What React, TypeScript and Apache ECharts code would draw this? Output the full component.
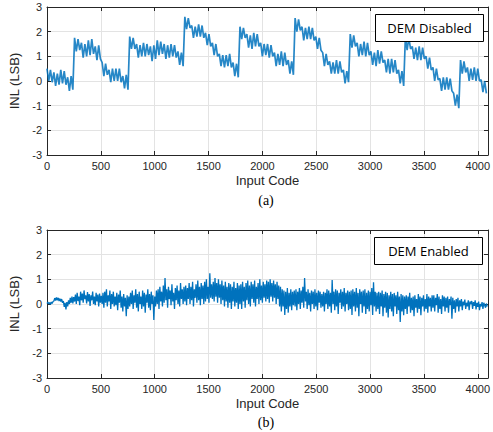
import React, { useEffect, useRef } from "react";
import * as echarts from "echarts";

// INL (LSB) with DEM disabled, one value every 16 input codes
const inlDemDisabled: number[] = [
  // 0-255
  0.5, 0.0, 0.45, -0.05, 0.35, -0.2, 0.3, -0.15, 0.45, -0.1, 0.4, -0.15, 0.15, -0.4, 0.2, -0.35,
  // 256-511
  1.75, 1.2, 1.7, 1.25, 1.55, 0.95, 1.5, 1.0, 1.65, 1.05, 1.7, 1.1, 1.4, 0.85, 1.45, 0.9,
  // 512-767
  0.75, 0.2, 0.7, 0.25, 0.45, -0.05, 0.5, 0.0, 0.5, 0.0, 0.5, -0.05, 0.2, -0.3, 0.25, -0.35,
  // 768-1023
  1.8, 1.3, 1.75, 1.3, 1.5, 0.95, 1.45, 1.0, 1.55, 1.0, 1.5, 1.05, 1.4, 0.8, 1.45, 0.9,
  // 1024-1279
  1.65, 1.05, 1.6, 1.1, 1.5, 0.9, 1.45, 0.95, 1.5, 1.0, 1.45, 0.95, 1.2, 0.65, 1.15, 0.6,
  // 1280-1535
  2.6, 2.1, 2.55, 2.15, 2.25, 1.75, 2.2, 1.8, 2.3, 1.8, 2.25, 1.75, 1.95, 1.45, 1.9, 1.4,
  // 1536-1791
  1.55, 1.05, 1.5, 1.0, 1.1, 0.6, 1.05, 0.55, 1.05, 0.6, 1.1, 0.55, 0.75, 0.2, 0.7, 0.15,
  // 1792-2047
  2.2, 1.7, 2.15, 1.75, 1.9, 1.35, 1.85, 1.3, 1.95, 1.4, 1.9, 1.4, 1.55, 1.0, 1.5, 1.05,
  // 2048-2303
  1.5, 0.95, 1.45, 1.0, 1.15, 0.6, 1.1, 0.65, 1.2, 0.6, 1.15, 0.65, 0.85, 0.3, 0.8, 0.25,
  // 2304-2559
  2.55, 2.0, 2.5, 2.05, 2.2, 1.65, 2.15, 1.7, 2.2, 1.7, 2.15, 1.65, 1.8, 1.3, 1.75, 1.25,
  // 2560-2815
  1.15, 0.6, 1.1, 0.65, 0.8, 0.3, 0.75, 0.3, 0.85, 0.3, 0.8, 0.35, 0.45, -0.1, 0.4, -0.05,
  // 2816-3071
  1.9, 1.35, 1.85, 1.4, 1.55, 1.0, 1.5, 1.05, 1.6, 1.0, 1.55, 1.05, 1.2, 0.65, 1.15, 0.6,
  // 3072-3327
  1.25, 0.7, 1.2, 0.75, 0.85, 0.35, 0.9, 0.3, 0.9, 0.35, 0.85, 0.3, 0.45, -0.1, 0.4, -0.2,
  // 3328-3583
  1.8, 1.25, 1.75, 1.3, 1.4, 0.9, 1.35, 0.85, 1.4, 0.85, 1.35, 0.9, 1.0, 0.5, 0.95, 0.45,
  // 3584-3839
  0.55, 0.0, 0.5, 0.05, 0.1, -0.4, 0.15, -0.35, 0.15, -0.35, 0.1, -0.4, -0.5, -1.0, -0.55, -1.1,
  // 3840-4095
  0.85, 0.3, 0.8, 0.35, 0.55, 0.0, 0.5, 0.05, 0.55, 0.0, 0.5, 0.0, 0.05, -0.45, 0.0, -0.5,
];
const codeStepDisabled = 16;

// INL (LSB) with DEM enabled, one value every 8 input codes
const inlDemEnabled: number[] = [
  0.02, 0.08, 0.0, 0.06, -0.02, 0.08, 0.02, 0.1, 0.12, 0.24, 0.14, 0.27, 0.15, 0.25, 0.12, 0.22,
  0.1, 0.2, 0.05, 0.12, -0.12, 0.05, -0.22, 0.08, -0.1, 0.15, 0.0, 0.25, 0.05, 0.3, 0.02, 0.28,
  0.1, 0.38, 0.0, 0.45, 0.12, 0.3, -0.05, 0.5, 0.15, 0.42, 0.05, 0.55, 0.2, 0.35, 0.02, 0.48,
  0.1, 0.4, -0.08, 0.35, 0.15, 0.5, 0.0, 0.3, -0.05, 0.45, 0.1, 0.38, -0.1, 0.42, 0.05, 0.33,
  0.0, 0.45, -0.15, 0.5, 0.05, 0.6, -0.1, 0.35, 0.1, 0.55, -0.2, 0.4, 0.0, 0.5, -0.1, 0.3,
  -0.05, 0.45, -0.25, 0.38, 0.05, 0.55, -0.15, 0.3, -0.3, 0.4, -0.1, 0.25, -0.5, 0.35, -0.2, 0.3,
  -0.1, 0.45, 0.0, 0.55, -0.2, 0.35, 0.05, 0.6, -0.15, 0.4, -0.3, 0.5, 0.0, 0.3, -0.2, 0.55,
  -0.1, 0.45, -0.35, 0.38, 0.05, 0.6, -0.15, 0.4, -0.25, 0.5, 0.0, 0.35, -0.65, 0.3, -0.1, 0.55,
  0.0, 0.6, -0.2, 0.7, 0.1, 0.5, -0.1, 0.75, 0.05, 1.05, 0.15, 0.6, -0.15, 0.7, 0.2, 0.55,
  -0.05, 0.8, 0.1, 0.45, -0.2, 0.65, 0.15, 0.75, 0.0, 0.55, -0.1, 0.85, 0.2, 0.6, 0.0, 0.7,
  0.1, 0.75, -0.05, 0.65, 0.2, 0.85, 0.0, 0.7, 0.15, 0.9, -0.1, 0.6, 0.25, 0.8, 0.05, 0.95,
  0.15, 0.7, -0.05, 0.85, 0.2, 0.75, 0.0, 0.9, 0.1, 1.0, 0.2, 0.7, 0.05, 1.25, 0.25, 0.8,
  0.2, 0.9, 0.1, 1.05, 0.3, 0.85, 0.05, 1.0, 0.25, 0.8, 0.0, 0.95, 0.15, 0.75, -0.1, 0.9,
  0.1, 0.7, -0.15, 0.85, 0.05, 0.8, -0.2, 0.7, 0.1, 0.9, -0.1, 0.65, 0.05, 0.85, -0.2, 0.75,
  0.0, 0.8, -0.2, 0.9, 0.1, 0.7, -0.15, 0.85, 0.15, 0.95, 0.0, 0.75, -0.1, 0.9, 0.2, 0.8,
  0.05, 0.95, -0.1, 0.7, 0.2, 0.85, 0.0, 1.0, 0.15, 0.75, 0.05, 0.9, 0.25, 0.8, 0.1, 0.95,
  0.2, 0.9, 0.05, 1.0, 0.3, 0.85, 0.1, 0.95, 0.25, 0.8, 0.0, 0.9, 0.2, 0.75, -0.1, 0.7,
  -0.3, 0.6, -0.1, 0.55, -0.45, 0.5, -0.2, 0.65, -0.35, 0.45, -0.1, 0.6, -0.25, 0.5, -0.05, 0.55,
  -0.1, 0.6, -0.25, 0.5, 0.0, 0.65, -0.2, 0.55, 0.05, 0.7, -0.15, 1.05, 0.1, 0.5, -0.2, 0.6,
  -0.05, 0.45, -0.3, 0.55, 0.0, 0.5, -0.2, 0.6, -0.1, 0.45, -0.25, 0.55, 0.05, 0.5, -0.15, 0.4,
  -0.1, 0.5, -0.3, 0.45, 0.0, 0.6, -0.2, 0.55, -0.1, 0.45, -0.35, 0.97, 0.0, 0.5, -0.25, 0.6,
  -0.1, 0.55, -0.4, 0.45, 0.05, 0.6, -0.2, 0.5, -0.1, 0.65, -0.3, 0.45, 0.0, 0.55, -0.25, 0.5,
  -0.2, 0.55, -0.45, 0.6, -0.1, 0.5, -0.3, 0.65, -0.15, 0.45, -0.5, 0.6, 0.0, 0.5, -0.35, 0.55,
  -0.1, 0.6, -0.4, 0.45, -0.2, 0.55, -0.3, 0.5, -0.05, 0.65, -0.45, 0.88, -0.1, 0.5, -0.3, 0.45,
  -0.2, 0.5, -0.4, 0.45, -0.1, 0.55, -0.5, 0.4, -0.15, 0.5, -0.35, 0.45, -0.55, 0.35, -0.2, 0.5,
  -0.3, 0.4, -0.5, 0.45, -0.1, 0.35, -0.4, 0.5, -0.25, 0.3, -0.73, 0.4, -0.3, 0.35, -0.45, 0.3,
  -0.2, 0.35, -0.4, 0.3, -0.1, 0.45, -0.35, 0.25, -0.25, 0.3, -0.5, 0.35, -0.15, 0.2, -0.35, 0.4,
  -0.2, 0.3, -0.45, 0.25, -0.1, 0.35, -0.3, 0.2, -0.2, 0.4, -0.35, 0.3, -0.1, 0.25, -0.3, 0.35,
  -0.15, 0.35, -0.3, 0.25, -0.05, 0.4, -0.35, 0.3, -0.2, 0.2, -0.4, 0.35, -0.1, 0.3, -0.3, 0.25,
  -0.15, 0.3, -0.35, 0.2, -0.05, 0.3, -0.6, 0.25, -0.2, 0.15, -0.35, 0.2, -0.1, 0.25, -0.3, 0.15,
  -0.1, 0.2, -0.25, 0.1, -0.05, 0.18, -0.2, 0.05, -0.1, 0.15, -0.25, 0.1, 0.0, 0.12, -0.2, 0.08,
  -0.08, 0.15, -0.22, 0.05, -0.12, 0.1, -0.25, 0.0, -0.1, 0.08, -0.2, 0.05, -0.05, -0.15, 0.02, -0.1,
];
const codeStepEnabled = 8;

const xMin = 0;
const xMax = 4095;
const xInterval = 500;
const yMin = -3;
const yMax = 3;
const yInterval = 1;
const panelLabels = ["(a)", "(b)"];
const legendLabels = ["DEM Disabled", "DEM Enabled"];
const xTitle = "Input Code";
const yTitle = "INL (LSB)";

const LINE = "#0072BD";
const AX = "#262626";
const GRID = "#e3e3e3";
const FONT = "'Liberation Sans', Arial, sans-serif";

export default function App() {
  const ref = useRef<HTMLDivElement>(null);
  useEffect(() => {
    if (!ref.current) return;
    const chart = echarts.init(ref.current, undefined, { renderer: "svg" });

    const grids = [
      { left: 47, right: 3, top: 7, height: 148 },
      { left: 47, right: 3, top: 230, height: 148 },
    ];

    const xAxes: any[] = [];
    const yAxes: any[] = [];
    grids.forEach((_, gi) => {
      xAxes.push({
        type: "value",
        gridIndex: gi,
        min: xMin,
        max: xMax,
        interval: xInterval,
        position: "bottom",
        name: xTitle,
        nameLocation: "middle",
        nameGap: 19,
        nameTextStyle: { color: AX, fontFamily: FONT, fontSize: 13 },
        axisLine: { show: true, onZero: false, lineStyle: { color: AX, width: 1 } },
        axisTick: { show: true, inside: true, length: 4, lineStyle: { color: AX } },
        axisLabel: {
          color: AX,
          fontFamily: FONT,
          fontSize: 11,
          margin: 5,
          showMaxLabel: false,
          formatter: (v: number) => String(v),
        },
        splitLine: { show: true, lineStyle: { color: GRID, width: 1 } },
      });
      xAxes.push({
        type: "value",
        gridIndex: gi,
        min: xMin,
        max: xMax,
        interval: xInterval,
        position: "top",
        axisLine: { show: true, onZero: false, lineStyle: { color: AX, width: 1 } },
        axisTick: { show: true, inside: true, length: 4, lineStyle: { color: AX } },
        axisLabel: { show: false },
        splitLine: { show: false },
      });
      yAxes.push({
        type: "value",
        gridIndex: gi,
        min: yMin,
        max: yMax,
        interval: yInterval,
        position: "left",
        name: yTitle,
        nameLocation: "middle",
        nameGap: 13,
        nameTextStyle: { color: AX, fontFamily: FONT, fontSize: 13 },
        axisLine: { show: true, onZero: false, lineStyle: { color: AX, width: 1 } },
        axisTick: { show: true, inside: true, length: 4, lineStyle: { color: AX } },
        axisLabel: { color: AX, fontFamily: FONT, fontSize: 11, margin: 5 },
        splitLine: { show: true, lineStyle: { color: GRID, width: 1 } },
      });
      yAxes.push({
        type: "value",
        gridIndex: gi,
        min: yMin,
        max: yMax,
        interval: yInterval,
        position: "right",
        axisLine: { show: true, onZero: false, lineStyle: { color: AX, width: 1 } },
        axisTick: { show: true, inside: true, length: 4, lineStyle: { color: AX } },
        axisLabel: { show: false },
        splitLine: { show: false },
      });
    });

    const topData = inlDemDisabled.map((v, i) => [i * codeStepDisabled, v]);
    const botData = inlDemEnabled.map((v, i) => [i * codeStepEnabled, v]);

    const legendBox = (x: number, y: number, label: string) => ({
      type: "group",
      x,
      y,
      z: 100,
      children: [
        {
          type: "rect",
          z: 100,
          shape: { x: 0, y: 0, width: 108, height: 27 },
          style: { fill: "#ffffff", stroke: "#000000", lineWidth: 1 },
        },
        {
          type: "text",
          z: 101,
          x: 54,
          y: 13.5,
          style: {
            text: label,
            fill: "#000000",
            font: "13px 'Open Sans', 'Liberation Sans', sans-serif",
            align: "center",
            verticalAlign: "middle",
          },
        },
      ],
    });

    chart.setOption({
      animation: false,
      grid: grids,
      xAxis: xAxes,
      yAxis: yAxes,
      series: [
        {
          type: "line",
          xAxisIndex: 0,
          yAxisIndex: 0,
          data: topData,
          showSymbol: false,
          lineStyle: { color: LINE, width: 1.7, opacity: 0.85 },
          itemStyle: { color: LINE },
        },
        {
          type: "line",
          xAxisIndex: 2,
          yAxisIndex: 2,
          data: botData,
          showSymbol: false,
          lineStyle: { color: LINE, width: 1.3 },
          itemStyle: { color: LINE },
        },
      ],
      graphic: [
        legendBox(375.5, 14.5, legendLabels[0]),
        legendBox(374.5, 237.5, legendLabels[1]),
        {
          type: "text",
          x: 266,
          y: 200,
          z: 100,
          style: {
            text: panelLabels[0],
            fill: "#000000",
            font: "14px 'Liberation Serif', 'Times New Roman', serif",
            align: "center",
            verticalAlign: "middle",
          },
        },
        {
          type: "text",
          x: 266,
          y: 422,
          z: 100,
          style: {
            text: panelLabels[1],
            fill: "#000000",
            font: "14px 'Liberation Serif', 'Times New Roman', serif",
            align: "center",
            verticalAlign: "middle",
          },
        },
      ],
    });
    return () => chart.dispose();
  }, []);

  return (
    <div
      ref={ref}
      style={{ position: "fixed", left: 0, top: 0, width: 493, height: 432, background: "#ffffff" }}
    />
  );
}
